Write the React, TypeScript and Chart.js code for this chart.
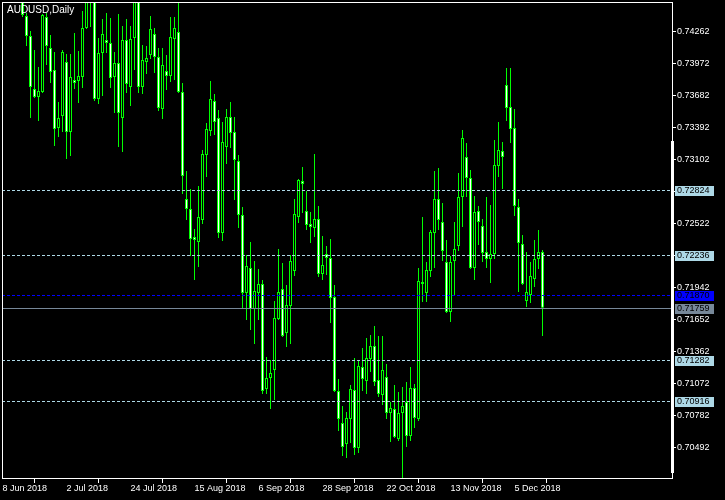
import React, { useEffect, useRef } from "react";
import { Chart, registerables } from "chart.js";

Chart.register(...registerables);

// ---- data ----
const symbolTitle = "AUDUSD,Daily";
// bar index of the first visible candle (bar 0 = 8 Jun 2018)
const FIRST_BAR = 5;

const opens = [
  0.74731, 0.74405, 0.74223, 0.73742, 0.73670, 0.73715, 0.74395, 0.74114, 0.73915, 0.73388,
  0.73497, 0.73987, 0.73352, 0.73824, 0.73815, 0.73851, 0.74296, 0.74604, 0.74577, 0.73651,
  0.74069, 0.74187, 0.74160, 0.73851, 0.73978, 0.73479, 0.74187, 0.73760, 0.74205, 0.74577,
  0.73760, 0.73987, 0.74051, 0.74241, 0.74033, 0.73561, 0.73906, 0.73860, 0.74196, 0.74259,
  0.73715, 0.72744, 0.72654, 0.72400, 0.72354, 0.72554, 0.73144, 0.73361, 0.73633, 0.73479,
  0.72436, 0.73216, 0.73488, 0.73352, 0.73089, 0.72599, 0.71892, 0.72119, 0.71747, 0.71892,
  0.71973, 0.71021, 0.71121, 0.71193, 0.71656, 0.71928, 0.71529, 0.71774, 0.72091, 0.72581,
  0.72908, 0.72636, 0.72518, 0.72481, 0.72563, 0.72064, 0.72246, 0.72209, 0.71856, 0.71003,
  0.70713, 0.70522, 0.70749, 0.71012, 0.70486, 0.71221, 0.71094, 0.71293, 0.71411, 0.71103,
  0.70967, 0.71130, 0.70803, 0.70840, 0.70568, 0.70803, 0.70903, 0.70595, 0.71030, 0.70749,
  0.71991, 0.71892, 0.72091, 0.72436, 0.72744, 0.72536, 0.72173, 0.71720, 0.72182, 0.72318,
  0.72762, 0.73125, 0.72935, 0.72119, 0.72636, 0.72500, 0.72264, 0.72200, 0.72246, 0.73044,
  0.73180, 0.73779, 0.73579, 0.73388, 0.72672, 0.72336, 0.71819, 0.71874, 0.72019, 0.72200,
  0.72264,
];

const highs = [
  0.74777, 0.74432, 0.74268, 0.74096, 0.73942, 0.74423, 0.74432, 0.74232, 0.74078, 0.73624,
  0.74096, 0.74060, 0.74060, 0.74250, 0.74087, 0.74450, 0.74658, 0.74680, 0.74604, 0.74205,
  0.74377, 0.74432, 0.74386, 0.74078, 0.74423, 0.74314, 0.74377, 0.74314, 0.74622, 0.74604,
  0.74141, 0.74132, 0.74405, 0.74296, 0.74114, 0.74114, 0.74051, 0.74395, 0.74395, 0.74522,
  0.73797, 0.72998, 0.72835, 0.72472, 0.72862, 0.73189, 0.73434, 0.73815, 0.73697, 0.73552,
  0.73443, 0.73561, 0.73624, 0.73488, 0.73144, 0.72672, 0.72237, 0.72354, 0.72182, 0.72109,
  0.72010, 0.71311, 0.71284, 0.71819, 0.72291, 0.72164, 0.71964, 0.72237, 0.72744, 0.72926,
  0.73035, 0.72817, 0.72627, 0.73153, 0.72681, 0.72409, 0.72318, 0.72382, 0.71964, 0.71112,
  0.70867, 0.70812, 0.71057, 0.71302, 0.71284, 0.71393, 0.71484, 0.71511, 0.71592, 0.71502,
  0.71502, 0.71248, 0.70903, 0.71057, 0.70994, 0.71039, 0.71085, 0.71221, 0.71066, 0.72119,
  0.72581, 0.72173, 0.72463, 0.72998, 0.73026, 0.72708, 0.72372, 0.72227, 0.72536, 0.72980,
  0.73370, 0.73252, 0.73008, 0.72772, 0.72681, 0.72563, 0.72762, 0.72690, 0.73280, 0.73443,
  0.73262, 0.73933, 0.73933, 0.73561, 0.72744, 0.72418, 0.72264, 0.72173, 0.72372, 0.72463,
  0.72282,
];

const lows = [
  0.74395, 0.74132, 0.73479, 0.73661, 0.73452, 0.73706, 0.73960, 0.73797, 0.73225, 0.73307,
  0.73352, 0.73107, 0.73135, 0.73742, 0.73615, 0.73751, 0.74287, 0.74305, 0.73633, 0.73606,
  0.73679, 0.74069, 0.73751, 0.73525, 0.73216, 0.73171, 0.73706, 0.73588, 0.73915, 0.73706,
  0.73697, 0.73878, 0.74014, 0.73887, 0.73543, 0.73470, 0.73733, 0.73806, 0.73824, 0.73706,
  0.72790, 0.72554, 0.72227, 0.72010, 0.72128, 0.72518, 0.72944, 0.73316, 0.73325, 0.72391,
  0.72363, 0.73062, 0.73207, 0.72735, 0.72481, 0.71747, 0.71647, 0.71556, 0.71429, 0.71647,
  0.70976, 0.70976, 0.70840, 0.70921, 0.71647, 0.71493, 0.71402, 0.71429, 0.72046, 0.72527,
  0.72617, 0.72463, 0.72345, 0.72400, 0.72037, 0.72010, 0.72055, 0.71620, 0.70994, 0.70640,
  0.70413, 0.70395, 0.70531, 0.70423, 0.70441, 0.71003, 0.70976, 0.71175, 0.71048, 0.70948,
  0.70876, 0.70749, 0.70540, 0.70577, 0.70549, 0.70190, 0.70495, 0.70549, 0.70667, 0.70731,
  0.71810, 0.71810, 0.72037, 0.72119, 0.72463, 0.72182, 0.71711, 0.71629, 0.71874, 0.72273,
  0.72490, 0.72762, 0.72109, 0.72010, 0.72327, 0.72173, 0.72119, 0.71982, 0.72200, 0.72944,
  0.72835, 0.73452, 0.73252, 0.72590, 0.71901, 0.71964, 0.71765, 0.71801, 0.71946, 0.72109,
  0.71502,
];

const closes = [
  0.74414, 0.74223, 0.73760, 0.73670, 0.73724, 0.74414, 0.74132, 0.73896, 0.73379, 0.73479,
  0.74078, 0.73352, 0.73851, 0.73797, 0.73860, 0.74296, 0.74604, 0.74577, 0.73651, 0.74069,
  0.74241, 0.74160, 0.73842, 0.73978, 0.73525, 0.74187, 0.73788, 0.74196, 0.74577, 0.73760,
  0.74005, 0.74024, 0.74287, 0.74033, 0.73570, 0.73960, 0.73860, 0.74214, 0.74296, 0.73715,
  0.72953, 0.72654, 0.72382, 0.72372, 0.72581, 0.73153, 0.73379, 0.73651, 0.73443, 0.72436,
  0.73262, 0.73488, 0.73343, 0.73098, 0.72599, 0.71892, 0.72137, 0.71747, 0.71910, 0.71973,
  0.71003, 0.71121, 0.71166, 0.71665, 0.71901, 0.71502, 0.71783, 0.72182, 0.72608, 0.72917,
  0.72880, 0.72509, 0.72490, 0.72563, 0.72064, 0.72146, 0.72209, 0.71847, 0.71003, 0.70749,
  0.70495, 0.70758, 0.71021, 0.70486, 0.71230, 0.71112, 0.71302, 0.71411, 0.71085, 0.70976,
  0.71193, 0.70803, 0.70849, 0.70586, 0.70803, 0.70867, 0.70595, 0.71030, 0.70758, 0.72001,
  0.71973, 0.72100, 0.72445, 0.72744, 0.72554, 0.72273, 0.71720, 0.72173, 0.72291, 0.72762,
  0.73298, 0.72935, 0.72119, 0.72627, 0.72536, 0.72255, 0.72200, 0.72246, 0.73053, 0.73189,
  0.73125, 0.73570, 0.73379, 0.72681, 0.72345, 0.71973, 0.71901, 0.72046, 0.72200, 0.72264,
  0.71759,
];

const xTickBars = [0, 16, 32, 48, 64, 80, 96, 112, 128];
const xTickLabels = [
  "8 Jun 2018", "2 Jul 2018", "24 Jul 2018", "15 Aug 2018", "6 Sep 2018",
  "28 Sep 2018", "22 Oct 2018", "13 Nov 2018", "5 Dec 2018",
];
const yTickValues = [
  0.74262, 0.73972, 0.73682, 0.73392, 0.73102, 0.72812, 0.72522,
  0.72232, 0.71942, 0.71652, 0.71362, 0.71072, 0.70782, 0.70492,
];
const levelLines = [0.72824, 0.72236, 0.71282, 0.70916];
const blueLine = 0.7187;
const bidLine = 0.71759;

// visible ranges
const X_MIN = -0.125;
const X_MAX = 167.375;
const Y_MIN = 0.702137;
const Y_MAX = 0.745315;

// ---- styles ----
const GREEN = "#00ff00";
const BEAR_FILL = "#ffffff";
const BULL_FILL = "#000000";
const LIGHTBLUE = "#add8e6";
const BLUE = "#0000ff";
const GRAY = "#778899";
const FONT = '"Liberation Sans", Arial, sans-serif';

export default function App() {
  const ref = useRef<HTMLCanvasElement | null>(null);

  useEffect(() => {
    const canvas = ref.current;
    if (!canvas) return;

    const bodies: any[] = [];
    const wicks: any[] = [];
    const fills: string[] = [];
    for (let k = 0; k < opens.length; k++) {
      const x = FIRST_BAR + k;
      wicks.push({ x, y: [lows[k], highs[k]] });
      bodies.push({ x, y: [Math.min(opens[k], closes[k]), Math.max(opens[k], closes[k])] });
      fills.push(closes[k] < opens[k] ? BEAR_FILL : BULL_FILL);
    }

    const overlay = {
      id: "mtOverlay",
      afterDraw(chart: any) {
        const { ctx, chartArea: a } = chart;
        const y = chart.scales.y;
        ctx.save();
        ctx.lineWidth = 1;
        const hline = (price: number, color: string, dash: number[]) => {
          const py = Math.round(y.getPixelForValue(price)) + 0.5;
          ctx.strokeStyle = color;
          ctx.setLineDash(dash);
          ctx.beginPath();
          ctx.moveTo(a.left, py);
          ctx.lineTo(a.right, py);
          ctx.stroke();
        };
        levelLines.forEach((p) => hline(p, LIGHTBLUE, [3, 2]));
        hline(blueLine, BLUE, [3, 2]);
        hline(bidLine, GRAY, []);
        ctx.setLineDash([]);

        // frame
        ctx.strokeStyle = "#ffffff";
        ctx.strokeRect(a.left + 0.5, a.top + 0.5, a.right - a.left, a.bottom - a.top);
        // thick segment on the price scale edge
        ctx.fillStyle = "#ffffff";
        ctx.fillRect(a.right - 1, 141, 3, a.bottom - 5 - 141);

        // price tags
        const tag = (price: number, bg: string, fg: string) => {
          const py = Math.round(y.getPixelForValue(price));
          ctx.fillStyle = bg;
          ctx.fillRect(a.right + 3, py - 4, 39, 10);
          ctx.fillStyle = fg;
          ctx.font = "9px " + FONT;
          ctx.textAlign = "left";
          ctx.textBaseline = "middle";
          ctx.fillText(price.toFixed(5), a.right + 5, py + 1);
        };
        levelLines.forEach((p) => tag(p, LIGHTBLUE, "#000000"));
        tag(blueLine, BLUE, "#000000");
        tag(bidLine, GRAY, "#000000");

        // title
        ctx.fillStyle = "#ffffff";
        ctx.font = "10px " + FONT;
        ctx.textAlign = "left";
        ctx.textBaseline = "alphabetic";
        ctx.fillText(symbolTitle, 7, 13);
        ctx.restore();
      },
    };

    const chart = new Chart(canvas, {
      type: "bar",
      data: {
        datasets: [
          {
            label: "body",
            data: bodies,
            backgroundColor: fills,
            borderColor: GREEN,
            borderWidth: 1,
            borderSkipped: false,
            grouped: false,
            categoryPercentage: 1,
            barPercentage: 0.75,
            inflateAmount: 0,
            order: 0,
            clip: 0,
          } as any,
          {
            label: "wick",
            data: wicks,
            backgroundColor: GREEN,
            borderWidth: 0,
            grouped: false,
            categoryPercentage: 1,
            barPercentage: 0.25,
            inflateAmount: 0,
            order: 1,
            clip: 0,
          } as any,
        ],
      },
      options: {
        responsive: false,
        animation: false,
        events: [],
        layout: { padding: { left: 2, top: 2, right: 0, bottom: 0 } },
        plugins: {
          legend: { display: false },
          tooltip: { enabled: false },
          title: { display: false },
        },
        scales: {
          x: {
            type: "linear",
            position: "bottom",
            min: X_MIN,
            max: X_MAX,
            offset: false,
            grid: {
              display: true,
              drawOnChartArea: false,
              drawTicks: true,
              tickLength: 5,
              tickColor: "#ffffff",
              color: "#ffffff",
            },
            border: { display: true, color: "#ffffff" },
            ticks: {
              autoSkip: false,
              maxRotation: 0,
              minRotation: 0,
              align: "start",
              padding: 0,
              color: "#ffffff",
              font: { family: FONT, size: 9 },
              callback: (_v: any, i: number) => xTickLabels[i] ?? "",
            },
            afterBuildTicks: (s: any) => {
              s.ticks = xTickBars.map((v) => ({ value: v }));
            },
            afterFit: (s: any) => {
              s.height = 22;
              s.paddingLeft = 0;
              s.paddingRight = 0;
              s.paddingTop = 0;
              s.paddingBottom = 0;
            },
          },
          y: {
            type: "linear",
            position: "right",
            min: Y_MIN,
            max: Y_MAX,
            grid: {
              display: true,
              drawOnChartArea: false,
              drawTicks: true,
              tickLength: 4,
              tickColor: "#ffffff",
              color: "#ffffff",
            },
            border: { display: true, color: "#ffffff" },
            ticks: {
              autoSkip: false,
              padding: 1,
              color: "#ffffff",
              font: { family: FONT, size: 9 },
              callback: (v: any) => Number(v).toFixed(5),
            },
            afterBuildTicks: (s: any) => {
              s.ticks = yTickValues.map((v) => ({ value: v }));
            },
            afterFit: (s: any) => {
              s.width = 53;
              s.paddingLeft = 0;
              s.paddingRight = 0;
              s.paddingTop = 0;
              s.paddingBottom = 0;
            },
          },
        },
      } as any,
      plugins: [overlay],
    });

    return () => chart.destroy();
  }, []);

  return (
    <div style={{ position: "fixed", left: 0, top: 0, width: 725, height: 500, background: "#000" }}>
      <canvas ref={ref} width={725} height={500} style={{ display: "block" }} />
    </div>
  );
}
